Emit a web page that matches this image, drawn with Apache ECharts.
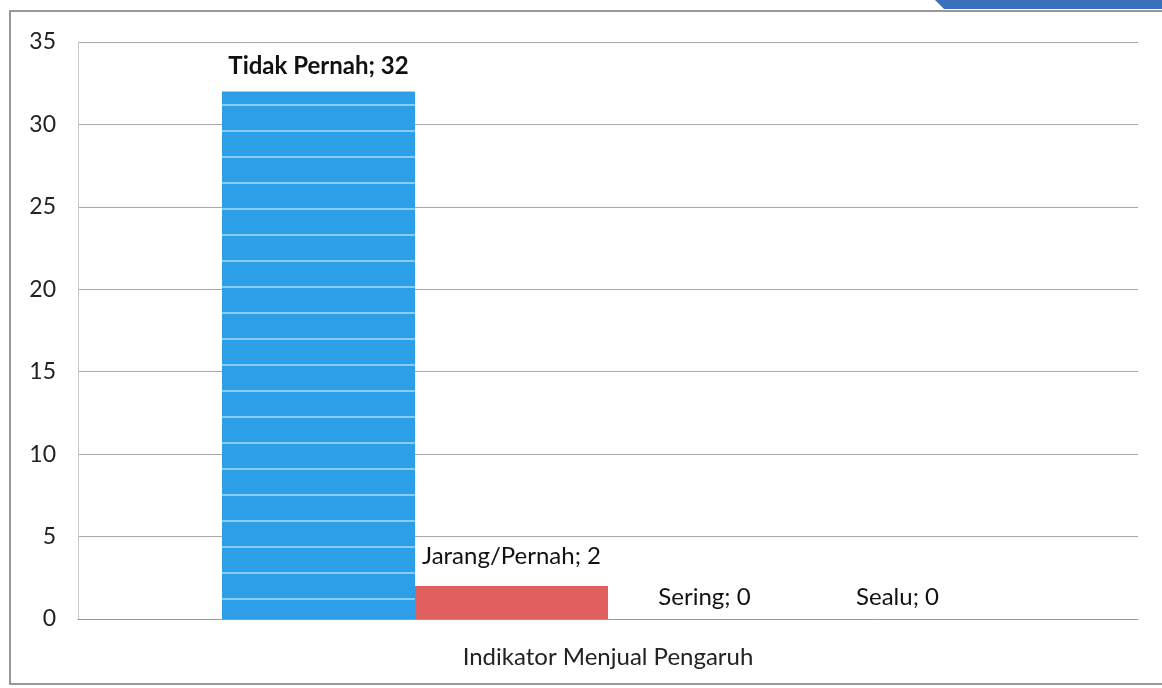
<!DOCTYPE html>
<html>
<head>
<meta charset="utf-8">
<script src="https://cdn.jsdelivr.net/npm/echarts@6/dist/echarts.min.js"></script>
<style>
  html, body { margin: 0; padding: 0; background: #fff; }
  #chart { width: 1162px; height: 688px; }
</style>
</head>
<body>
<div id="chart"></div>
<script>
const categories = ['Indikator Menjual Pengaruh']
const seriesNames = ['Tidak Pernah', 'Jarang/Pernah', 'Sering', 'Sealu']
const seriesValues = [32, 2, 0, 0]
const seriesColors = ['#2c9fe8', '#e0605f', '#8fbf5a', '#8e6fb5']
const yTicks = [0, 5, 10, 15, 20, 25, 30, 35]

const chart = echarts.init(document.getElementById('chart'))

const series = seriesNames.map((name, i) => {
  const itemStyle = { color: seriesColors[i] }
  if (i === 0) {
    // the blue bar in the scan has thin white stripes
    itemStyle.decal = {
      symbol: 'rect',
      color: 'rgba(255,255,255,0.45)',
      dashArrayX: [1, 0],
      dashArrayY: [1.5, 24],
      rotation: 0
    }
  }
  return {
    name: name,
    type: 'bar',
    barWidth: 193,
    barGap: 0,
    data: [seriesValues[i]],
    itemStyle: itemStyle,
    label: {
      show: true,
      position: 'top',
      distance: i === 0 ? 13 : (i === 1 ? 18 : 10),
      formatter: name + '; {c}',
      color: '#111',
      fontFamily: 'Lato',
      fontSize: 24,
      fontWeight: i === 0 ? 'bold' : 'normal'
    }
  }
})

chart.setOption({
  animation: false,
  textStyle: { fontFamily: 'Lato' },
  grid: {
    left: 78,
    right: 24,
    top: 42,
    bottom: 69
  },
  graphic: [
    {
      type: 'rect',
      shape: { x: 10, y: 11, width: 1160, height: 673 },
      style: { fill: 'none', stroke: '#777', lineWidth: 1.5 }
    },
    {
      type: 'polygon',
      shape: { points: [[935, 0], [1162, 0], [1162, 9], [944, 9]] },
      style: { fill: '#3a70b8' }
    }
  ],
  xAxis: {
    type: 'category',
    data: categories,
    axisLine: { lineStyle: { color: '#999' } },
    axisTick: { show: false },
    axisLabel: {
      margin: 26,
      color: '#222',
      fontSize: 24,
      fontFamily: 'Lato'
    }
  },
  yAxis: {
    type: 'value',
    min: yTicks[0],
    max: yTicks[yTicks.length - 1],
    interval: 5,
    axisLine: { show: true, lineStyle: { color: '#c8c8c8' } },
    axisTick: { show: false },
    splitLine: { lineStyle: { color: '#a8a8a8' } },
    axisLabel: {
      margin: 22,
      color: '#222',
      fontSize: 23,
      fontFamily: 'Lato'
    }
  },
  series: series
})
</script>
</body>
</html>
